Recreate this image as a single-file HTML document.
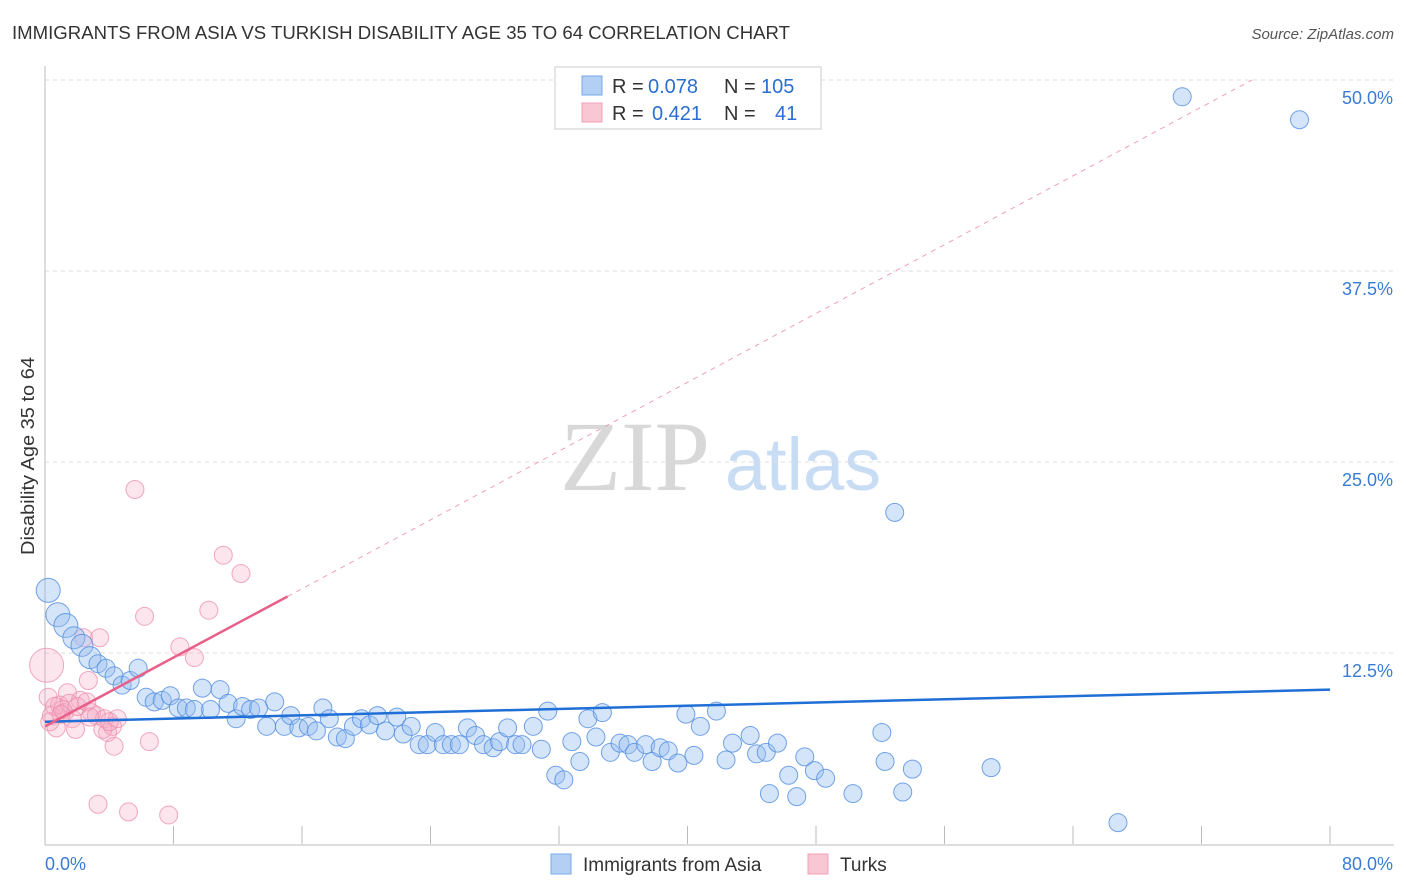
<!DOCTYPE html>
<html><head><meta charset="utf-8">
<style>
body{margin:0;background:#fff;font-family:"Liberation Sans",sans-serif;}
#wrap{position:relative;width:1406px;height:892px;overflow:hidden;}
</style></head>
<body>
<div id="wrap">
<svg id="chart" width="1406" height="892">
<text x="12" y="39" font-size="18" fill="#333" textLength="778" lengthAdjust="spacingAndGlyphs">IMMIGRANTS FROM ASIA VS TURKISH DISABILITY AGE 35 TO 64 CORRELATION CHART</text>
<text x="1394" y="39" font-size="15" fill="#555" font-style="italic" text-anchor="end">Source: ZipAtlas.com</text>
<text x="34" y="456" font-size="18" fill="#333" text-anchor="middle" textLength="198" lengthAdjust="spacingAndGlyphs" transform="rotate(-90 34 456)">Disability Age 35 to 64</text>
<g>
<text x="635" y="490" font-size="100" fill="#d8d8d8" font-family="Liberation Serif,serif" text-anchor="middle">ZIP</text>
<text x="803" y="490" font-size="74" fill="#c8dcf4" text-anchor="middle">atlas</text>
</g>
<g id="grid"></g>
<g id="pts"></g>
<g id="lines"></g>
<g font-size="20">
<rect x="555" y="67" width="266" height="62" fill="#fff" stroke="#ccc"/>
<rect x="582" y="76" width="20" height="19" fill="#b3cff3" stroke="#7aa8e8"/>
<rect x="582" y="103" width="20" height="19" fill="#f9c6d4" stroke="#f0a0b8"/>
<text x="612" y="93" fill="#333">R =</text>
<text x="648" y="93" fill="#2a6fd0">0.078</text>
<text x="724" y="93" fill="#333">N =</text>
<text x="761" y="93" fill="#2a6fd0">105</text>
<text x="612" y="120" fill="#333">R =</text>
<text x="652" y="120" fill="#2a6fd0">0.421</text>
<text x="724" y="120" fill="#333">N =</text>
<text x="775" y="120" fill="#2a6fd0">41</text>
</g>
<g>
<rect x="551" y="854" width="20" height="20" fill="#b3cff3" stroke="#7aa8e8"/>
<text x="583" y="871" font-size="19" fill="#333">Immigrants from Asia</text>
<rect x="808" y="854" width="20" height="20" fill="#f9c6d4" stroke="#f0a0b8"/>
<text x="840" y="871" font-size="19" fill="#333">Turks</text>
</g>
</svg>
</div>
<script>
const xTicks=[0,10,20,30,40,50,60,70,80];
const yTicks=[12.5,25,37.5,50];
const asiaX=[0.2,0.8,1.3,1.8,2.3,2.8,3.3,3.8,4.3,4.8,5.3,5.8,6.3,6.8,7.3,7.8,8.3,8.8,9.3,9.8,10.3,10.9,11.4,11.9,12.3,12.8,13.3,13.8,14.3,14.9,15.3,15.8,16.4,16.9,17.3,17.7,18.2,18.7,19.2,19.7,20.2,20.7,21.2,21.9,22.3,22.8,23.3,23.8,24.3,24.8,25.3,25.8,26.3,26.8,27.3,27.9,28.3,28.8,29.3,29.7,30.4,30.9,31.3,31.8,32.3,32.8,33.3,33.8,34.3,34.7,35.2,35.8,36.3,36.7,37.4,37.8,38.3,38.8,39.4,39.9,40.4,40.8,41.8,42.4,42.8,43.9,44.3,44.9,45.6,45.1,46.3,46.8,47.3,47.9,48.6,50.3,52.1,52.3,52.9,53.4,54.0,58.9,66.8,70.8,78.1];
const asiaY=[16.6,15.0,14.3,13.5,13.0,12.2,11.8,11.5,11.0,10.4,10.7,11.5,9.6,9.3,9.4,9.7,8.9,8.9,8.8,10.2,8.8,10.1,9.2,8.2,9.0,8.8,8.9,7.7,9.3,7.7,8.4,7.6,7.7,7.4,8.9,8.2,7.0,6.9,7.7,8.2,7.8,8.4,7.4,8.3,7.2,7.7,6.5,6.5,7.3,6.5,6.5,6.5,7.6,7.1,6.5,6.3,6.7,7.6,6.5,6.5,7.7,6.2,8.7,4.5,4.2,6.7,5.4,8.2,7.0,8.6,6.0,6.6,6.5,6.0,6.5,5.4,6.3,6.1,5.3,8.5,5.8,7.7,8.7,5.5,6.6,7.1,5.9,6.0,6.6,3.3,4.5,3.1,5.7,4.8,4.3,3.3,7.3,5.4,21.7,3.4,4.9,5.0,1.4,48.9,47.4];
const turksX=[0.1,0.2,0.4,0.7,0.9,1.2,1.4,1.7,1.9,2.2,2.4,2.7,2.9,3.2,3.3,3.4,3.7,3.9,4.2,4.3,4.5,5.2,5.6,6.2,6.5,7.7,8.4,9.3,10.2,11.1,12.2,0.6,1.1,2.0,2.6,3.6,1.5,0.3,4.0,1.0,2.8];
const turksY=[11.7,9.6,8.4,7.6,9.1,8.6,9.9,8.2,7.5,9.4,13.5,10.7,8.6,8.4,2.6,13.5,8.2,7.3,7.7,6.4,8.2,2.1,23.2,14.9,6.7,1.9,12.9,12.2,15.3,18.9,17.7,9.0,8.8,9.0,9.3,7.5,9.2,8.0,8.0,8.5,8.3];
const asiaTrend=[8.0,10.1];
const turksTrend=[7.7,16.2];
const NS='http://www.w3.org/2000/svg';
const X0=45,X1=1330,Y0=844,Y50=80;
const sx=v=>X0+(X1-X0)*v/80;
const sy=v=>Y0-(Y0-Y50)*v/50;
function mk(tag,attrs,parent){const e=document.createElementNS(NS,tag);for(const k in attrs)e.setAttribute(k,attrs[k]);parent.appendChild(e);return e;}
const grid=document.getElementById('grid');
yTicks.forEach(t=>{
 const l=mk('line',{x1:X0,x2:1394,y1:sy(t),y2:sy(t),stroke:'#ddd','stroke-dasharray':'4,4'},grid);
 
 
 const tx=mk('text',{x:1393,y:sy(t)+24,'font-size':18,fill:'#3a7bd5','text-anchor':'end'},grid);
 tx.textContent=t.toFixed(1)+'%';
 
 
});
mk('line',{x1:X0,x2:X0,y1:66,y2:Y0+1,stroke:'#bbb'},grid);
mk('line',{x1:X0,x2:1394,y1:Y0+1,y2:Y0+1,stroke:'#bbb'},grid);
for(let i=0;i<=80;i+=8){const x=sx(i);const t=mk('line',{x1:x,x2:x,y1:826,y2:Y0,stroke:'#bbb'},grid);}
const xl0=mk('text',{x:45,y:870,'font-size':18,fill:'#3a7bd5'},grid);xl0.textContent='0.0%';


const xl1=mk('text',{x:1393,y:870,'font-size':18,fill:'#3a7bd5','text-anchor':'end'},grid);xl1.textContent='80.0%';


const pts=document.getElementById('pts');
turksX.forEach((v,i)=>{
 const r=i===0?17:9;
 const c=mk('circle',{cx:sx(v),cy:sy(turksY[i]),r:r,fill:'rgba(246,170,195,0.3)',stroke:'rgba(236,140,170,0.75)','stroke-width':1},pts);
 
 
});
asiaX.forEach((v,i)=>{
 const r=i<3?12:(i<6?11:9);
 const c=mk('circle',{cx:sx(v),cy:sy(asiaY[i]),r:r,fill:'rgba(150,190,240,0.4)',stroke:'rgba(80,140,225,0.8)','stroke-width':1},pts);
 
 
});
const lines=document.getElementById('lines');
const bl=mk('line',{x1:sx(0),y1:sy(asiaTrend[0]),x2:sx(80),y2:sy(asiaTrend[1]),stroke:'#1f6fd6','stroke-width':2.5},lines);


const slope=(turksTrend[1]-turksTrend[0])/15.1;
const xEnd=(50-turksTrend[0])/slope;
const pd=mk('line',{x1:sx(15.1),y1:sy(turksTrend[1]),x2:sx(xEnd),y2:sy(50),stroke:'#f0a0b8','stroke-width':1,'stroke-dasharray':'5,5'},lines);


const pl=mk('line',{x1:sx(0),y1:sy(turksTrend[0]),x2:sx(15.1),y2:sy(turksTrend[1]),stroke:'#e8608a','stroke-width':2.5},lines);


</script>
</body></html>
